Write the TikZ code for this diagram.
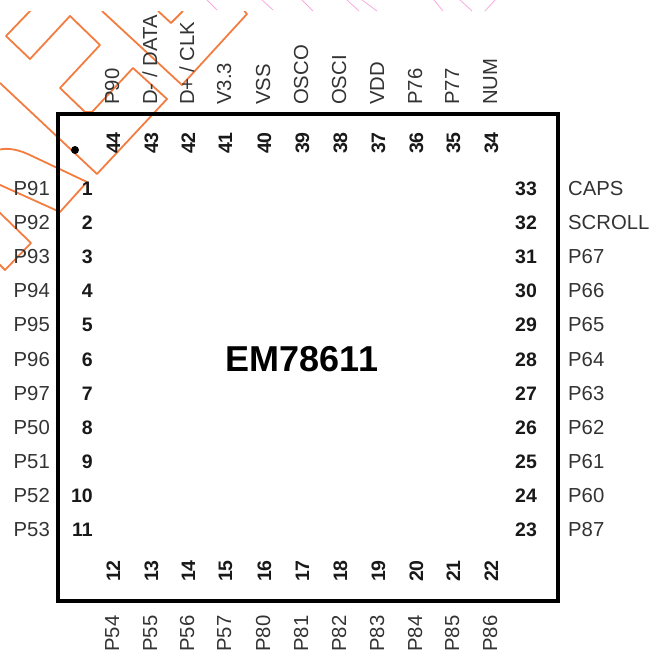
\documentclass[tikz,border=0pt]{standalone}
\usepackage{fontspec}
\setmainfont{Liberation Sans}
\newcommand{\pinfont}{\fontsize{20.3}{21}\selectfont}
\newcommand{\numfont}{\fontsize{19.5}{20}\selectfont\bfseries}
\definecolor{trace}{RGB}{243,125,65}
\definecolor{tracepink}{RGB}{250,170,220}
\tikzset{
  trace line/.style={draw=trace,line width=1.8pt,line join=round},
  pink line/.style={draw=tracepink,line width=.8pt},
  pinlabel/.style={inner sep=0pt,font=\pinfont,text=black!80},
  pinnum/.style={inner sep=0pt,font=\numfont,text=black!90},
  chip/.style={draw=black,line width=4.5pt,line join=miter}
}
\begin{document}
\begin{tikzpicture}[x=1pt,y=-1pt]
\useasboundingbox (0,0) rectangle (652,657);
\begin{scope}
\clip (0,11) rectangle (652,657);
\draw[trace line] (32,9) -- (6,36) -- (30,59) -- (70,16) -- (100,45) -- (60,88) -- (85,112) -- (92,112) -- (133,68) -- (167,99) -- (97,174) -- (0,83);
\draw[trace line] (102,11) -- (182,85) -- (247,14) -- (243,9);
\draw[trace line] (158,11) -- (171,23) -- (183,11);
\draw[trace line] (-2,150) .. controls (8,147) and (20,150) .. (32,156) -- (87,182) -- (60,212) -- (-2,184);
\draw[trace line] (-2,211) -- (31,243) -- (5,270) -- (-2,263);
\end{scope}
\draw[pink line] (207,0) -- (217,10);
\draw[pink line] (262,0) -- (273,10);
\draw[pink line] (302,0) -- (313,11);
\draw[pink line] (347,0) -- (359,11);
\draw[pink line] (362,0) -- (377,11);
\draw[pink line] (434,0) -- (443,11);
\draw[pink line] (460,0) -- (472,11);
\draw[pink line] (495,0) -- (485,11);
\node[chip,minimum width=500pt,minimum height=487pt,anchor=center,inner sep=0pt] (chipbox) at (308,357.5) {};
\fill (75,150) circle (4pt);
\node[font=\fontsize{36}{37}\selectfont\bfseries,inner sep=0pt,anchor=base] (title) at (302,371) {EM78611};
\foreach \n/\t/\y in {1/P91/195,2/P92/229,3/P93/263,4/P94/297,5/P95/331,6/P96/366,7/P97/400,8/P50/434,9/P51/468,10/P52/502,11/P53/536}{
  \node[pinlabel,anchor=base east] (l\n) at (50,\y) {\t};
  \node[pinnum,anchor=base east] (n\n) at (93,\y) {\n};
}
\foreach \n/\t/\y in {33/CAPS/195,32/SCROLL/229,31/P67/263,30/P66/297,29/P65/331,28/P64/366,27/P63/400,26/P62/434,25/P61/468,24/P60/502,23/P87/536}{
  \node[pinlabel,anchor=base west] (l\n) at (568,\y) {\t};
  \node[pinnum,anchor=base west] (n\n) at (515,\y) {\n};
}
\foreach \n/\t/\x in {44/P90/119,43/{D- / DATA}/157,42/{D+ / CLK}/194,41/V3.3/231,40/VSS/270,39/OSCO/308,38/OSCI/346,37/VDD/384,36/P76/422,35/P77/459,34/NUM/497}{
  \node[pinlabel,anchor=base west,rotate=90] (l\n) at (\x,105) {\t};
  \node[pinnum,anchor=base,rotate=90] (n\n) at (\x+1,143) {\n};
}
\foreach \n/\t/\x in {12/P54/119,13/P55/157,14/P56/194,15/P57/231,16/P80/270,17/P81/308,18/P82/346,19/P83/384,20/P84/422,21/P85/459,22/P86/497}{
  \node[pinlabel,anchor=base west,rotate=90] (l\n) at (\x,652) {\t};
  \node[pinnum,anchor=base,rotate=90] (n\n) at (\x+1,571) {\n};
}
\end{tikzpicture}
\end{document}
